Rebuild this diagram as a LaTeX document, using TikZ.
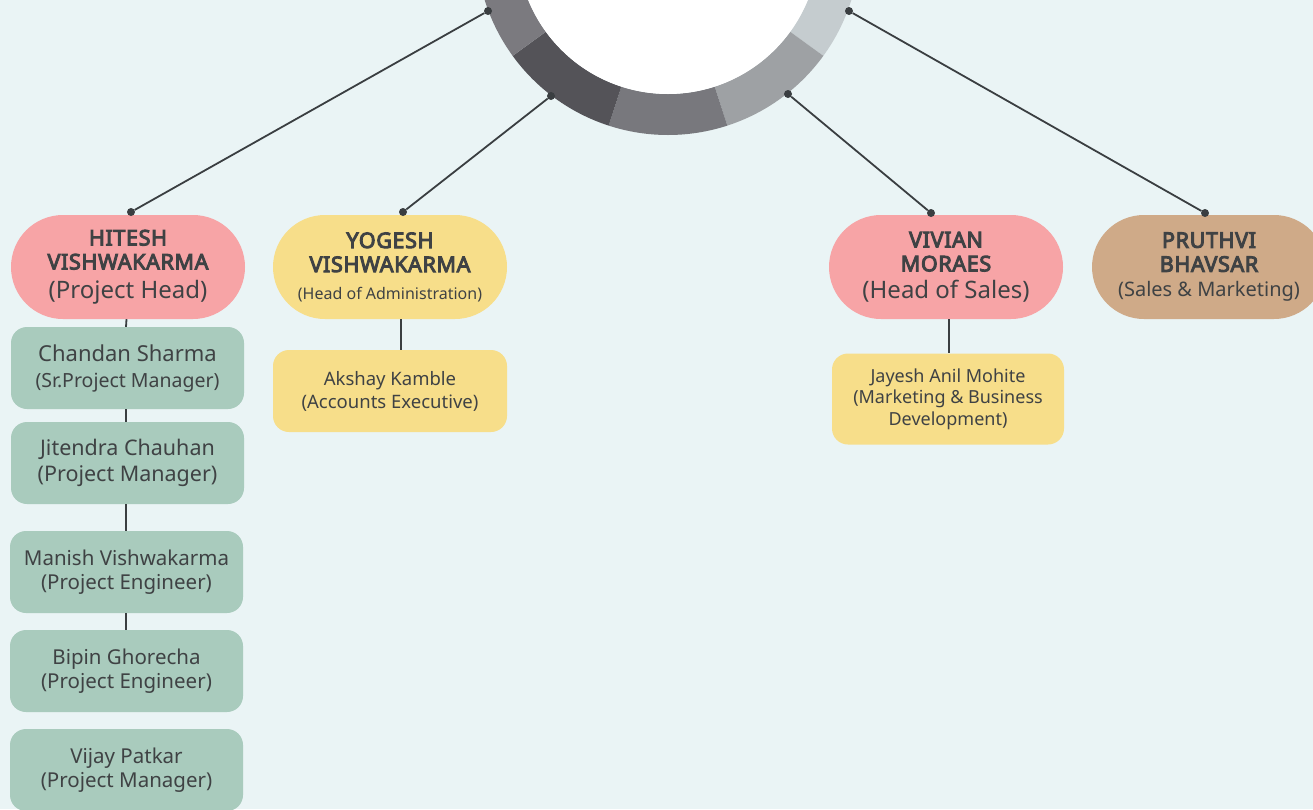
\documentclass[tikz,border=0pt]{standalone}
\usepackage{fontspec}
\setmainfont{Noto Sans}
\newfontfamily\bnames{Noto Sans}[FakeBold=4.5, LetterSpace=3]
\usetikzlibrary{calc}
\definecolor{bg}{HTML}{EAF4F5}
\definecolor{pinkc}{HTML}{F7A4A6}
\definecolor{yellowc}{HTML}{F7DE8A}
\definecolor{tanc}{HTML}{CFAA88}
\definecolor{greenc}{HTML}{A9CBBD}
\definecolor{txt}{HTML}{3F4244}
\definecolor{linec}{HTML}{3A3E41}
\definecolor{segA}{HTML}{7B7A7F}
\definecolor{segB}{HTML}{545358}
\definecolor{segC}{HTML}{78787D}
\definecolor{segD}{HTML}{9EA1A4}
\definecolor{segE}{HTML}{C5CCCF}
\newcommand{\fsz}[2]{\fontsize{#1}{#2}\selectfont}
\newcommand{\nm}[1]{{\bnames #1}}
\tikzset{
  head/.style={rounded corners=52pt, minimum width=234pt, minimum height=104pt, inner sep=0pt, align=center, text=txt, font=\fsz{21.5}{24}},
  subbox/.style={rounded corners=16pt, minimum width=233pt, minimum height=82pt, inner sep=0pt, align=center, text=txt},
  dotc/.style={circle, fill=linec, inner sep=0pt, minimum size=8pt},
  conn/.style={draw=linec, line width=1.8pt},
}
\begin{document}
\begin{tikzpicture}[x=1pt,y=-1pt]
\useasboundingbox (0,0) rectangle (1313,809);
\clip (0,0) rectangle (1313,809);
\fill[bg] (0,0) rectangle (1313,809);
% ring
\begin{scope}[shift={(668,-57)}]
  \fill[segE] (0:192) arc[start angle=0,end angle=36,radius=192] -- (36:151) arc[start angle=36,end angle=0,radius=151] -- cycle;
  \fill[segD] (36:192) arc[start angle=36,end angle=72,radius=192] -- (72:151) arc[start angle=72,end angle=36,radius=151] -- cycle;
  \fill[segC] (72:192) arc[start angle=72,end angle=108,radius=192] -- (108:151) arc[start angle=108,end angle=72,radius=151] -- cycle;
  \fill[segB] (108:192) arc[start angle=108,end angle=144,radius=192] -- (144:151) arc[start angle=144,end angle=108,radius=151] -- cycle;
  \fill[segA] (144:192) arc[start angle=144,end angle=180,radius=192] -- (180:151) arc[start angle=180,end angle=144,radius=151] -- cycle;
  \fill[white] (0,0) circle[radius=151];
\end{scope}
% head nodes
\node[head, fill=pinkc] (hitesh) at (128,267) {\nm{HITESH}\\\nm{VISHWAKARMA}\\[5pt]{\fsz{24}{26}(Project Head)}};
\node[head, fill=yellowc] (yogesh) at (390,267) {\nm{YOGESH}\\\nm{VISHWAKARMA}\\[3pt]{\fsz{16}{18}(Head of Administration)}};
\node[head, fill=pinkc] (vivian) at (946,267) {\nm{VIVIAN}\\\nm{MORAES}\\[3pt]{\fsz{24}{26}(Head of Sales)}};
\node[head, fill=tanc] (pruthvi) at (1209,267) {\nm{PRUTHVI}\\\nm{BHAVSAR}\\[1pt]{\fsz{20}{22}(Sales \& Marketing)}};
% sub nodes
\node[subbox, fill=greenc, font=\fsz{22}{26}] (chandan) at (127.5,368) {Chandan Sharma\\{\fsz{19.5}{26}(Sr.Project Manager)}};
\node[subbox, fill=greenc, font=\fsz{21.5}{26}] (jitendra) at (127.5,463) {Jitendra Chauhan\\(Project Manager)};
\node[subbox, fill=greenc, font=\fsz{20.5}{24}] (manish) at (126.5,572) {Manish Vishwakarma\\(Project Engineer)};
\node[subbox, fill=greenc, font=\fsz{20.5}{24}] (bipin) at (126.5,671) {Bipin Ghorecha\\(Project Engineer)};
\node[subbox, fill=greenc, font=\fsz{20.5}{24}] (vijay) at (126.5,770) {Vijay Patkar\\(Project Manager)};
\node[subbox, fill=yellowc, minimum width=234pt, font=\fsz{18.5}{23}] (akshay) at (390,391) {Akshay Kamble\\(Accounts Executive)};
\node[subbox, fill=yellowc, minimum width=232pt, minimum height=91pt, font=\fsz{18}{21.5}] (jayesh) at (948,399) {Jayesh Anil Mohite\\(Marketing \& Business\\Development)};
% dots
\node[dotc] (r1) at (488,11) {};
\node[dotc] (r2) at (551,96) {};
\node[dotc] (r3) at (788,94) {};
\node[dotc] (r4) at (849,11) {};
\node[dotc] (t1) at (131,212) {};
\node[dotc] (t2) at (403,212) {};
\node[dotc] (t3) at (931,213) {};
\node[dotc] (t4) at (1205,213) {};
% connectors
\draw[conn] (r1) -- (t1);
\draw[conn] (r2) -- (t2);
\draw[conn] (r3) -- (t3);
\draw[conn] (r4) -- (t4);
\draw[conn] ([xshift=-1.5pt]hitesh.south) -- ([xshift=-1.5pt]chandan.north);
\draw[conn] ([xshift=-1.5pt]chandan.south) -- ([xshift=-1.5pt]jitendra.north);
\draw[conn] ([xshift=-1.5pt]jitendra.south) -- ([xshift=-0.5pt]manish.north);
\draw[conn] ([xshift=-0.5pt]manish.south) -- ([xshift=-0.5pt]bipin.north);
\draw[conn] ([xshift=11pt]yogesh.south) -- ([xshift=11pt]akshay.north);
\draw[conn] ([xshift=1pt]jayesh.north |- vivian.south) -- ([xshift=1pt]jayesh.north);
\end{tikzpicture}
\end{document}
